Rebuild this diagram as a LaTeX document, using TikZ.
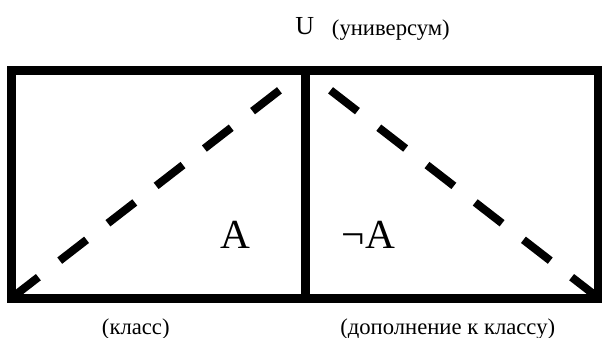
\documentclass[tikz,border=0pt]{standalone}
\usepackage{fontspec}
\setmainfont{Liberation Serif}
\begin{document}
\begin{tikzpicture}[x=0.75pt,y=-0.75pt,
  frame/.style={line width=6.75pt, line join=miter, line cap=butt},
  diag/.style={line width=6pt, dash pattern=on 25.5pt off 20.25pt, line cap=butt},
  bigtext/.style={font=\fontsize{31}{31}\selectfont, inner sep=0pt, anchor=base west},
  utext/.style={font=\fontsize{19.5}{19.5}\selectfont, inner sep=0pt, anchor=base west},
  smalltext/.style={font=\fontsize{17}{17}\selectfont, inner sep=0pt, anchor=base west}]
\useasboundingbox (0,0) rectangle (602,338);
\coordinate (tl) at (11.5,70.5);
\coordinate (br) at (598.5,298);
\coordinate (bl) at (11.5,298);
\coordinate (mt) at (305,70.5);
\coordinate (mb) at (305,298);
\draw[frame] (tl) rectangle (br);
\draw[frame] (mt) -- (mb);
\draw[diag] (bl) -- (mt);
\draw[diag] (br) -- (mt);
\node[utext] (U) at (295,35) {U};
\node[smalltext] (univ) at (331.7,36) {(универсум)};
\node[bigtext] (A) at (220,248) {A};
\node[bigtext] (notA) at (341.7,248) {¬A};
\node[smalltext] (cls) at (101.7,334) {(класс)};
\node[smalltext] (compl) at (340,334) {(дополнение к классу)};
\end{tikzpicture}
\end{document}
